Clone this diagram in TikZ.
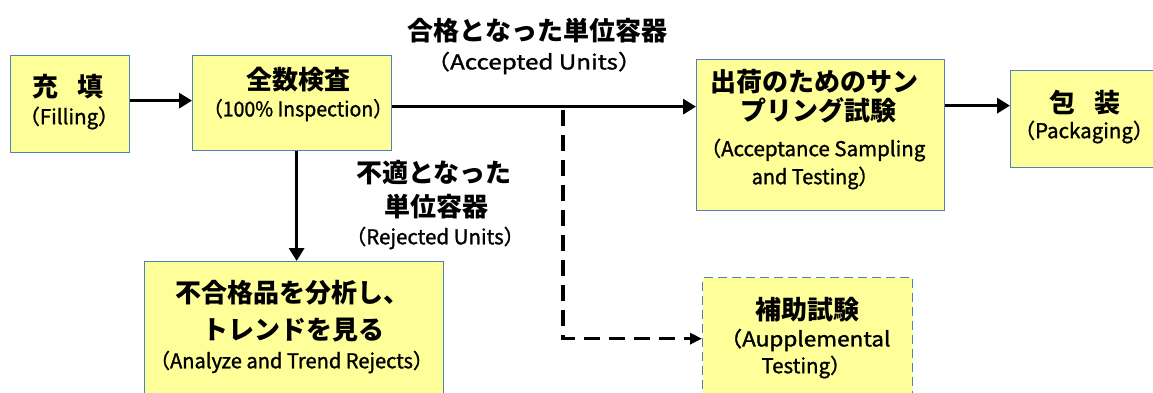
\documentclass[tikz,border=0pt]{standalone}
\usepackage{graphicx}
\usepackage{fontspec}
\setmainfont{Noto Sans CJK JP}
\newfontfamily\latf{Noto Sans CJK JP}[FakeBold=1.3]
\usetikzlibrary{arrows.meta}
\definecolor{boxy}{RGB}{255,255,153}
\definecolor{bordc}{RGB}{79,129,189}
\newcommand\hsc[2]{\scalebox{#1}[1]{#2}}
\tikzset{
  box/.style={draw=bordc, line width=1.3pt, fill=boxy, inner sep=0pt, anchor=north west},
  jt/.style={font=\bfseries\fontsize{26}{30}\selectfont, inner sep=0pt},
  lt/.style={font=\latf\fontsize{20.5}{24}\selectfont, inner sep=0pt},
  arr/.style={line width=3.3pt, -{Triangle[length=13pt,width=15pt]}},
  darr/.style={line width=3.3pt, dash pattern=on 16pt off 9pt, -{Triangle[length=12pt,width=11pt]}},
}
\begin{document}
\begin{tikzpicture}[x=1pt,y=-1pt]
\useasboundingbox (0,0) rectangle (1153,392);
\clip (0,0) rectangle (1153,392);
% boxes
\node[box, minimum width=119pt, minimum height=97pt] (fill) at (10,55) {};
\node[box, minimum width=199pt, minimum height=95pt] (insp) at (192,55) {};
\node[box, minimum width=248pt, minimum height=151pt] (acc) at (696,59) {};
\node[box, minimum width=150pt, minimum height=97pt] (pack) at (1010,70) {};
\node[box, minimum width=299pt, minimum height=140pt] (ana) at (144,261) {};
\node[box, dash pattern=on 9pt off 5pt, minimum width=210pt, minimum height=122pt] (sup) at (702,277) {};
% texts
\node[jt] (t1a) at (68,87) {充\hspace{0.72em}填};
\node[lt] (t1b) at (69,118) {（Filling）};
\node[jt] (t2a) at (298,80) {全数検査};
\node[lt] (t2b) at (298,110) {\hsc{0.95}{（100\% Inspection）}};
\node[jt] (t3a) at (814,82) {出荷のためのサン};
\node[jt] (t3b) at (818,110) {プリング試験};
\node[lt] (t3c) at (813,150) {（Acceptance Sampling};
\node[lt] (t3d) at (815,178) {\hsc{0.97}{and Testing）}};
\node[jt] (t4a) at (1085,103) {包\hspace{0.72em}装};
\node[lt] (t4b) at (1084,132) {（Packaging）};
\node[jt] (t5a) at (292,293) {不合格品を分析し、};
\node[jt] (t5b) at (293,330) {トレンドを見る};
\node[lt] (t5c) at (291.5,362) {\hsc{0.98}{（Analyze and Trend Rejects）}};
\node[jt] (t6a) at (807,310) {補助試験};
\node[lt] (t6b) at (805,340) {\hsc{1.1}{（Aupplemental}};
\node[lt] (t6c) at (806,367) {Testing）};
\node[jt] (la1) at (537.5,31) {合格となった単位容器};
\node[lt] (la2) at (534,63) {\hsc{1.18}{（Accepted Units）}};
\node[jt] (lr1) at (434,173) {不適となった};
\node[jt] (lr2) at (436,207) {単位容器};
\node[lt] (lr3) at (435,238) {（Rejected Units）};
% connectors
\coordinate (f1) at ([yshift=3.5pt]fill.east);
\draw[arr] (f1) -- (f1 -| insp.west);
\coordinate (m1) at ([yshift=-3.5pt]insp.east);
\draw[arr] (m1) -- (m1 -| acc.west);
\coordinate (p1) at ([yshift=13.5pt]pack.west);
\draw[arr] (p1 -| acc.east) -- (p1);
\coordinate (v1) at ([xshift=4.5pt]insp.south);
\draw[arr] (v1) -- (v1 |- ana.north);
\coordinate (dj) at (563,110);
\draw[darr] (dj) -- (dj |- sup.west) -- (sup.west);
\end{tikzpicture}
\end{document}
